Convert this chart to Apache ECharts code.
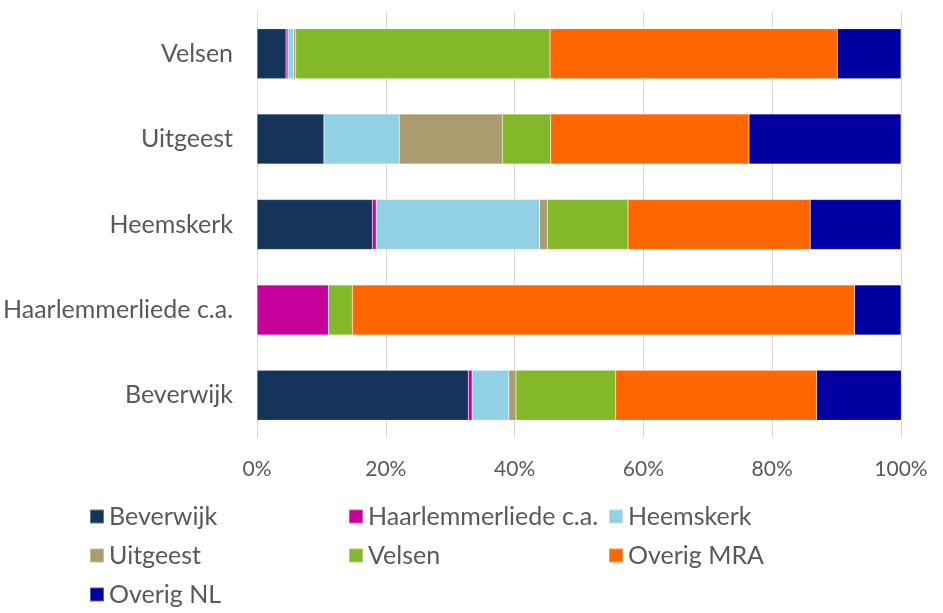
<!DOCTYPE html>
<html>
<head>
<meta charset="utf-8">
<script src="https://cdn.jsdelivr.net/npm/echarts@6/dist/echarts.min.js"></script>
<style>
html, body { margin: 0; padding: 0; background: #fff; }
#chart { width: 943px; height: 613px; }
</style>
</head>
<body>
<div id="chart"></div>
<script>
// categories, bottom to top
var gemeenten = ['Beverwijk', 'Haarlemmerliede c.a.', 'Heemskerk', 'Uitgeest', 'Velsen'];

// share per destination (%), same order as gemeenten
var beverwijk = [32.8, 0, 17.9, 10.4, 4.5];
var haarlemmerliede = [0.6, 11.1, 0.6, 0, 0.3];
var heemskerk = [5.7, 0, 25.4, 11.7, 0.9];
var uitgeest = [1.1, 0, 1.2, 16.0, 0.3];
var velsen = [15.5, 3.7, 12.5, 7.5, 39.5];
var overigMRA = [31.2, 78.0, 28.3, 30.8, 44.6];
var overigNL = [13.2, 7.2, 14.1, 23.6, 9.9];

var xTicks = [0, 20, 40, 60, 80, 100];

var reeksen = [
    { naam: 'Beverwijk', data: beverwijk, kleur: '#14345A' },
    { naam: 'Haarlemmerliede c.a.', data: haarlemmerliede, kleur: '#C8009B' },
    { naam: 'Heemskerk', data: heemskerk, kleur: '#92D1E3' },
    { naam: 'Uitgeest', data: uitgeest, kleur: '#AA9C6F' },
    { naam: 'Velsen', data: velsen, kleur: '#83B828' },
    { naam: 'Overig MRA', data: overigMRA, kleur: '#FF6600' },
    { naam: 'Overig NL', data: overigNL, kleur: '#0000A0' }
];

var lettertype = 'Lato, "Open Sans", sans-serif';
var tekstkleur = '#595959';

// legenda in drie kolommen, rij voor rij
var kolommen = [84, 343, 603];
var rijen = [499, 538, 577];

function legenda(naam, i) {
    return {
        data: [naam],
        left: kolommen[i % 3],
        top: rijen[Math.floor(i / 3)],
        itemWidth: 14,
        itemHeight: 14,
        icon: 'rect',
        textStyle: { fontSize: 25, color: tekstkleur, fontFamily: lettertype }
    };
}

var myChart = echarts.init(document.getElementById('chart'));

var option = {
    animation: false,
    backgroundColor: '#fff',
    grid: { left: 256, right: 42, top: 11, bottom: 175 },
    legend: reeksen.map(function (r, i) { return legenda(r.naam, i); }),
    xAxis: {
        type: 'value',
        min: xTicks[0],
        max: xTicks[xTicks.length - 1],
        interval: 20,
        axisLine: { show: false },
        axisTick: { show: false },
        splitLine: { lineStyle: { color: '#D9D9D9', width: 1 } },
        axisLabel: {
            margin: 21,
            fontSize: 21,
            color: tekstkleur,
            fontFamily: lettertype,
            formatter: '{value}%'
        }
    },
    yAxis: {
        type: 'category',
        data: gemeenten,
        axisLine: { show: false },
        axisTick: { show: false },
        axisLabel: { margin: 24, fontSize: 25, color: tekstkleur, fontFamily: lettertype }
    },
    series: reeksen.map(function (r) {
        return {
            name: r.naam,
            type: 'bar',
            stack: 'totaal',
            barWidth: 50,
            data: r.data,
            itemStyle: { color: r.kleur, borderColor: 'rgba(255,255,255,0.35)', borderWidth: 0.5 }
        };
    })
};

myChart.setOption(option);
</script>
</body>
</html>
